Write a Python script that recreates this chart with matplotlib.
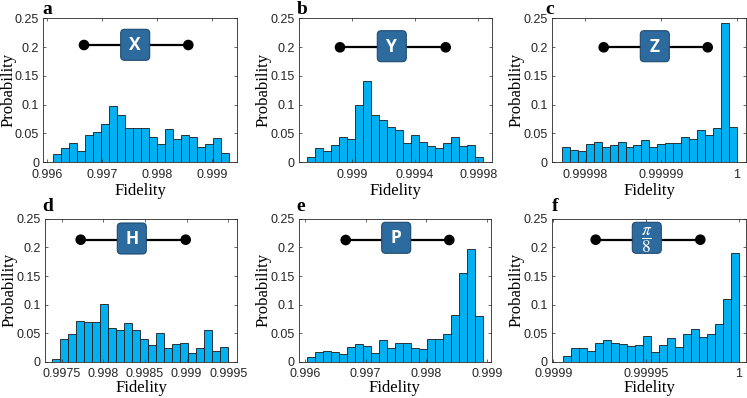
import numpy as np
import matplotlib
matplotlib.use('Agg')
import matplotlib.pyplot as plt
from matplotlib.patches import FancyBboxPatch, Circle

plt.rcParams['mathtext.fontset'] = 'stix'

# bar heights, 22 bins per panel
heights_a = [0.014, 0.024, 0.034, 0.020, 0.048, 0.052, 0.066, 0.098, 0.082, 0.060, 0.060,
             0.060, 0.044, 0.032, 0.058, 0.040, 0.048, 0.044, 0.026, 0.032, 0.042, 0.016]
heights_b = [0.010, 0.024, 0.020, 0.030, 0.044, 0.040, 0.100, 0.142, 0.082, 0.074, 0.062,
             0.056, 0.034, 0.048, 0.036, 0.028, 0.024, 0.034, 0.044, 0.028, 0.030, 0.010]
heights_c = [0.026, 0.022, 0.020, 0.032, 0.036, 0.026, 0.030, 0.036, 0.026, 0.030, 0.038,
             0.026, 0.032, 0.034, 0.034, 0.044, 0.040, 0.056, 0.048, 0.060, 0.242, 0.062]
heights_d = [0.006, 0.040, 0.048, 0.072, 0.070, 0.070, 0.102, 0.060, 0.056, 0.068, 0.056,
             0.040, 0.030, 0.050, 0.024, 0.032, 0.034, 0.016, 0.024, 0.056, 0.020, 0.026]
heights_e = [0.008, 0.018, 0.020, 0.018, 0.014, 0.026, 0.032, 0.028, 0.016, 0.038, 0.024,
             0.034, 0.034, 0.024, 0.022, 0.040, 0.040, 0.048, 0.082, 0.156, 0.198, 0.080]
heights_f = [0.010, 0.024, 0.024, 0.020, 0.034, 0.038, 0.034, 0.032, 0.028, 0.030, 0.046,
             0.018, 0.030, 0.042, 0.026, 0.048, 0.058, 0.044, 0.048, 0.066, 0.110, 0.190]

# histogram ranges (first bin edge, last bin edge)
range_a = (0.9961, 0.9993)
range_b = (0.99872, 0.99983)
range_c = (0.999977, 1.0)
range_d = (0.99739, 0.9995)
range_e = (0.99604, 0.99894)
range_f = (0.999905, 1.0)

xlim_a = (0.99593, 0.99946)
xlim_b = (0.998667, 0.999888)
xlim_c = (0.9999757, 1.0000012)
xlim_d = (0.9973, 0.99961)
xlim_e = (0.9959, 0.999066)
xlim_f = (0.9998993, 1.0000038)

xticks_a = [0.996, 0.997, 0.998, 0.999]
xticks_b = [0.999, 0.9994, 0.9998]
xticks_c = [0.99998, 0.99999, 1.0]
xticks_d = [0.9975, 0.998, 0.9985, 0.999, 0.9995]
xticks_e = [0.996, 0.997, 0.998, 0.999]
xticks_f = [0.9999, 0.99995, 1.0]

xlabels_a = ['0.996', '0.997', '0.998', '0.999']
xlabels_b = ['0.999', '0.9994', '0.9998']
xlabels_c = ['0.99998', '0.99999', '1']
xlabels_d = ['0.9975', '0.998', '0.9985', '0.999', '0.9995']
xlabels_e = ['0.996', '0.997', '0.998', '0.999']
xlabels_f = ['0.9999', '0.99995', '1']

yticks = [0, 0.05, 0.1, 0.15, 0.2, 0.25]
ylabels = ['0', '0.05', '0.1', '0.15', '0.2', '0.25']

letters = ['a', 'b', 'c', 'd', 'e', 'f']
gates = ['X', 'Y', 'Z', 'H', 'P', r'$\dfrac{\pi}{8}$']

W, H = 747, 398
# axes boxes in pixels: left, top, right, bottom
boxes = [(43.3, 18.3, 237.3, 162.3), (299, 18.3, 492.3, 162.3), (552, 18.3, 746, 162.3),
         (45, 218.7, 237.3, 362), (299, 218.7, 490.7, 362), (552, 218.7, 746, 362)]
# gate glyph, pixels relative to axes top-left: dot x left, dot x right, dot y, box x0, box y0
glyphs = [(40.7, 145, 26.7, 77.4, 11), (41, 146.7, 29, 78.3, 12.4), (51.7, 155.7, 29, 88.3, 12.4),
          (35.7, 140.7, 21, 72.3, 4.3), (46.7, 150.3, 21.3, 82.7, 3.6), (43.7, 148.3, 21, 80.3, 3.6)]
letter_pos = [(42.7, 14), (296.7, 14), (545, 14), (42.7, 210.7), (296.7, 210.7), (552, 210.7)]
xlabel_drop = [28.5, 28.5, 28.5, 25.7, 25.7, 25.7]

panels = [
    (heights_a, range_a, xlim_a, xticks_a, xlabels_a),
    (heights_b, range_b, xlim_b, xticks_b, xlabels_b),
    (heights_c, range_c, xlim_c, xticks_c, xlabels_c),
    (heights_d, range_d, xlim_d, xticks_d, xlabels_d),
    (heights_e, range_e, xlim_e, xticks_e, xlabels_e),
    (heights_f, range_f, xlim_f, xticks_f, xlabels_f),
]

fig = plt.figure(figsize=(W / 100, H / 100), dpi=100)

for i, (heights, rng, xlim, xt, xl) in enumerate(panels):
    l, t, r, b = boxes[i]
    ax = fig.add_axes([l / W, 1 - b / H, (r - l) / W, (b - t) / H])
    edges = np.linspace(rng[0], rng[1], len(heights) + 1)
    ax.bar(edges[:-1], heights, width=edges[1] - edges[0], align='edge',
           color='#00b0f0', edgecolor='#1a1a1a', linewidth=0.6)
    ax.set_xlim(*xlim)
    ax.set_ylim(0, 0.25)
    ax.set_xticks(xt)
    ax.set_xticklabels(xl, family='Liberation Sans', fontsize=9, color='#262626')
    ax.set_yticks(yticks)
    ax.set_yticklabels(ylabels, family='Liberation Sans', fontsize=9, color='#262626')
    ax.tick_params(direction='in', length=2.5, width=0.5, top=True, right=True,
                   colors='#262626')
    ax.tick_params(axis='x', pad=4.5)
    ax.tick_params(axis='y', pad=3)
    for s in ax.spines.values():
        s.set_linewidth(0.6)
        s.set_color('#262626')
    ax.set_xlabel('Fidelity', family='Liberation Serif', fontsize=12, va='center')
    ax.set_ylabel('Probability', family='Liberation Serif', fontsize=12, va='center')
    ax.xaxis.set_label_coords(0.5, -xlabel_drop[i] / (b - t))
    ax.yaxis.set_label_coords(-35 / (r - l), 0.5)

    # gate symbol drawn in pixel units over the axes
    ov = ax.inset_axes([0, 0, 1, 1])
    ov.set_xlim(0, r - l)
    ov.set_ylim(b - t, 0)
    ov.axis('off')
    ov.patch.set_alpha(0)
    dx0, dx1, dy, bx, by = glyphs[i]
    ov.plot([dx0, dx1], [dy, dy], color='black', lw=1.6)
    for dxx in (dx0, dx1):
        ov.add_patch(Circle((dxx, dy), 4.6, color='black'))
    ov.add_patch(FancyBboxPatch((bx, by), 29, 31, boxstyle='round,pad=0,rounding_size=4',
                                fc='#2d6b9f', ec='#1e4a70', lw=0.8, zorder=3))
    if i == 5:
        ov.text(bx + 14.5, by + 17.5, gates[i], color='white', fontsize=12.5,
                ha='center', va='center', zorder=4)
    else:
        ov.text(bx + 14.5, by + 16, gates[i], color='white', fontsize=12.5, fontweight='bold',
                family='Open Sans', ha='center', va='center', zorder=4)

    lx, ly = letter_pos[i]
    fig.text(lx / W, 1 - ly / H, letters[i], family='Liberation Serif', fontweight='bold',
             fontsize=14, ha='left', va='baseline')

fig.savefig('out.png', dpi=100)
